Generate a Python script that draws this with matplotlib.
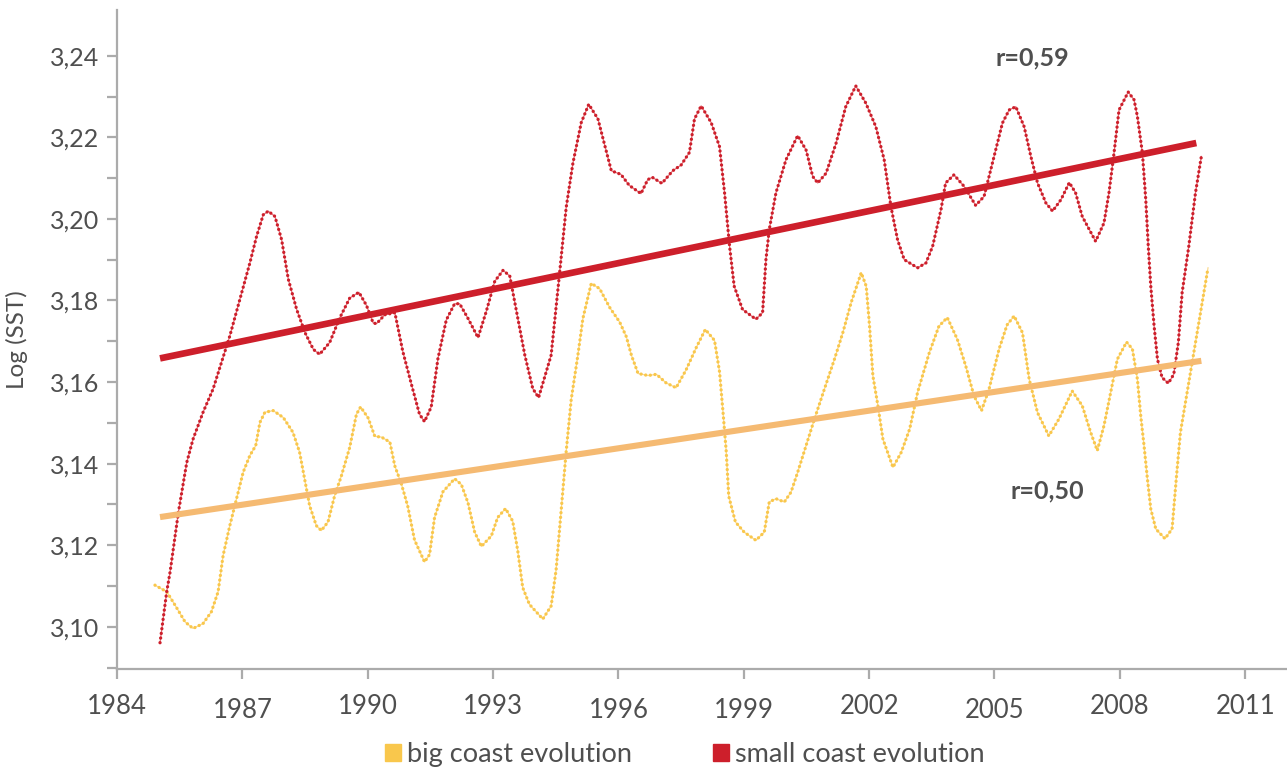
import matplotlib
matplotlib.use('Agg')
import matplotlib.pyplot as plt
from matplotlib.patches import Patch
from matplotlib.ticker import FixedLocator, FuncFormatter
from matplotlib.transforms import ScaledTranslation

# sea surface temperature, log scale, smoothed series
years_small = [1985.03, 1985.19, 1985.27, 1985.47, 1985.67, 1985.82, 1986.06, 1986.30, 1986.50, 1986.70,
               1986.94, 1987.18, 1987.34, 1987.50, 1987.62, 1987.78, 1987.94, 1988.10, 1988.30, 1988.50,
               1988.70, 1988.85, 1989.09, 1989.33, 1989.57, 1989.79, 1989.97, 1990.13, 1990.21, 1990.41,
               1990.65, 1990.84, 1991.05, 1991.24, 1991.36, 1991.52, 1991.68, 1991.88, 1992.08, 1992.20,
               1992.40, 1992.64, 1992.84, 1993.04, 1993.24, 1993.40, 1993.56, 1993.76, 1993.95, 1994.09,
               1994.39, 1994.59, 1994.75, 1994.91, 1995.11, 1995.29, 1995.51, 1995.67, 1995.83, 1996.06,
               1996.26, 1996.54, 1996.70, 1996.81, 1997.04, 1997.30, 1997.50, 1997.70, 1997.82, 1997.98,
               1998.22, 1998.42, 1998.54, 1998.66, 1998.77, 1998.97, 1999.29, 1999.45, 1999.53, 1999.61,
               1999.77, 2000.01, 2000.29, 2000.49, 2000.65, 2000.77, 2000.97, 2001.21, 2001.44, 2001.68,
               2001.92, 2002.16, 2002.36, 2002.52, 2002.68, 2002.84, 2003.16, 2003.36, 2003.52, 2003.72,
               2003.83, 2004.03, 2004.27, 2004.55, 2004.75, 2004.87, 2005.07, 2005.19, 2005.35, 2005.51,
               2005.71, 2005.87, 2006.03, 2006.23, 2006.39, 2006.59, 2006.79, 2006.94, 2007.10, 2007.42,
               2007.62, 2007.74, 2007.86, 2007.98, 2008.20, 2008.34, 2008.42, 2008.54, 2008.62, 2008.68,
               2008.74, 2008.82, 2008.90, 2009.01, 2009.16, 2009.29, 2009.40, 2009.49, 2009.65, 2009.81,
               2009.95]
small_coast = [3.0961, 3.1086, 3.1134, 3.1281, 3.1403, 3.1460, 3.1526, 3.1583, 3.1648, 3.1713,
               3.1803, 3.1892, 3.1957, 3.2010, 3.2019, 3.2006, 3.1949, 3.1852, 3.1778, 3.1721,
               3.1680, 3.1668, 3.1697, 3.1757, 3.1806, 3.1820, 3.1788, 3.1745, 3.1743, 3.1765,
               3.1770, 3.1675, 3.1593, 3.1521, 3.1503, 3.1539, 3.1657, 3.1752, 3.1792, 3.1792,
               3.1756, 3.1709, 3.1774, 3.1847, 3.1874, 3.1860, 3.1774, 3.1666, 3.1584, 3.1562,
               3.1666, 3.1865, 3.2028, 3.2136, 3.2236, 3.2281, 3.2245, 3.2181, 3.2118, 3.2109,
               3.2082, 3.2062, 3.2096, 3.2102, 3.2087, 3.2118, 3.2132, 3.2163, 3.2245, 3.2277,
               3.2236, 3.2177, 3.2064, 3.1933, 3.1835, 3.1778, 3.1754, 3.1770, 3.1900, 3.1974,
               3.2064, 3.2145, 3.2204, 3.2169, 3.2104, 3.2088, 3.2112, 3.2186, 3.2275, 3.2326,
               3.2284, 3.2226, 3.2145, 3.2031, 3.1949, 3.1900, 3.1880, 3.1892, 3.1933, 3.2023,
               3.2088, 3.2108, 3.2080, 3.2033, 3.2055, 3.2104, 3.2186, 3.2235, 3.2267, 3.2275,
               3.2226, 3.2153, 3.2088, 3.2039, 3.2019, 3.2047, 3.2089, 3.2064, 3.2006, 3.1945,
               3.1990, 3.2064, 3.2161, 3.2267, 3.2311, 3.2292, 3.2251, 3.2161, 3.2047, 3.1933,
               3.1835, 3.1737, 3.1656, 3.1611, 3.1597, 3.1619, 3.1697, 3.1819, 3.1933, 3.2064,
               3.2153]

years_big = [1984.91, 1985.19, 1985.39, 1985.63, 1985.82, 1986.06, 1986.26, 1986.42, 1986.54, 1986.70,
             1986.86, 1987.02, 1987.18, 1987.32, 1987.42, 1987.54, 1987.74, 1987.98, 1988.21, 1988.37,
             1988.49, 1988.61, 1988.77, 1988.89, 1989.05, 1989.21, 1989.37, 1989.57, 1989.73, 1989.83,
             1990.01, 1990.17, 1990.33, 1990.53, 1990.65, 1990.81, 1990.96, 1991.12, 1991.36, 1991.48,
             1991.60, 1991.80, 1992.08, 1992.24, 1992.40, 1992.56, 1992.72, 1992.96, 1993.11, 1993.30,
             1993.47, 1993.59, 1993.71, 1993.87, 1994.19, 1994.39, 1994.51, 1994.63, 1994.75, 1994.87,
             1995.03, 1995.15, 1995.35, 1995.55, 1995.79, 1996.03, 1996.19, 1996.31, 1996.47, 1996.71,
             1996.91, 1997.14, 1997.38, 1997.62, 1997.86, 1998.08, 1998.30, 1998.42, 1998.50, 1998.58,
             1998.64, 1998.80, 1999.01, 1999.29, 1999.49, 1999.61, 1999.77, 1999.97, 2000.13, 2000.29,
             2000.49, 2000.69, 2000.93, 2001.17, 2001.37, 2001.57, 2001.81, 2001.93, 2002.01, 2002.09,
             2002.21, 2002.33, 2002.57, 2002.77, 2002.97, 2003.16, 2003.44, 2003.67, 2003.87, 2004.11,
             2004.31, 2004.51, 2004.69, 2004.87, 2005.11, 2005.30, 2005.47, 2005.67, 2005.83, 2006.03,
             2006.30, 2006.54, 2006.86, 2007.10, 2007.30, 2007.46, 2007.62, 2007.78, 2007.94, 2008.16,
             2008.30, 2008.42, 2008.50, 2008.58, 2008.66, 2008.74, 2008.86, 2009.08, 2009.25, 2009.35,
             2009.45, 2009.61, 2009.77, 2009.93, 2010.11]
big_coast = [3.1102, 3.1086, 3.1053, 3.1012, 3.0996, 3.1008, 3.1037, 3.1086, 3.1175, 3.1248,
             3.1314, 3.1379, 3.1420, 3.1444, 3.1501, 3.1526, 3.1530, 3.1513, 3.1477, 3.1428,
             3.1363, 3.1297, 3.1248, 3.1236, 3.1257, 3.1322, 3.1370, 3.1440, 3.1521, 3.1539,
             3.1512, 3.1467, 3.1465, 3.1453, 3.1394, 3.1349, 3.1295, 3.1213, 3.1159, 3.1177,
             3.1268, 3.1331, 3.1363, 3.1349, 3.1304, 3.1232, 3.1197, 3.1223, 3.1268, 3.1290,
             3.1259, 3.1187, 3.1096, 3.1055, 3.1019, 3.1051, 3.1141, 3.1286, 3.1430, 3.1557,
             3.1666, 3.1756, 3.1842, 3.1829, 3.1783, 3.1747, 3.1711, 3.1666, 3.1621, 3.1616,
             3.1619, 3.1598, 3.1586, 3.1630, 3.1684, 3.1729, 3.1702, 3.1625, 3.1530, 3.1430,
             3.1320, 3.1257, 3.1232, 3.1212, 3.1232, 3.1306, 3.1314, 3.1306, 3.1330, 3.1379,
             3.1444, 3.1509, 3.1583, 3.1656, 3.1721, 3.1795, 3.1868, 3.1835, 3.1737, 3.1615,
             3.1542, 3.1460, 3.1391, 3.1428, 3.1485, 3.1575, 3.1672, 3.1737, 3.1758, 3.1705,
             3.1640, 3.1566, 3.1530, 3.1583, 3.1681, 3.1740, 3.1762, 3.1721, 3.1607, 3.1525,
             3.1468, 3.1509, 3.1578, 3.1542, 3.1477, 3.1432, 3.1493, 3.1575, 3.1656, 3.1698,
             3.1681, 3.1607, 3.1517, 3.1443, 3.1362, 3.1289, 3.1240, 3.1216, 3.1240, 3.1363,
             3.1477, 3.1575, 3.1672, 3.1770, 3.1880]

# linear trends (start / end)
trend_years_small = [1985.03, 2009.83]
trend_small = [3.1658, 3.2186]
trend_years_big = [1985.03, 2009.95]
trend_big = [3.1269, 3.1652]

r_small = 'r=0,59'
r_big = 'r=0,50'
year_ticks = list(range(1984, 2012, 3))
raised_years = [1984, 1990, 1993, 2002, 2008, 2011]
value_ticks = [3.10, 3.12, 3.14, 3.16, 3.18, 3.20, 3.22, 3.24]
minor_ticks = [3.09, 3.11, 3.13, 3.15, 3.17, 3.19, 3.21, 3.23]

RED = '#CD1F2B'
RED_LINE = '#E3747C'
YELLOW = '#F9C74C'
YELLOW_LINE = '#FBDA90'
ORANGE = '#F5BA72'
AXIS = '#ABABAB'
TEXT = '#4F4F4F'

plt.rcParams['font.family'] = ['Lato', 'DejaVu Sans']

fig = plt.figure(figsize=(12.87, 7.71), dpi=100)
ax = fig.add_axes([0.0909, 0.132, 0.9091, 0.855])


def dotted_series(x, y, dot_color, line_color):
    ax.plot(x, y, color=line_color, lw=0.9, zorder=2)
    ax.plot(x, y, color=dot_color, lw=2.4, linestyle=(0, (0.01, 1.4)),
            dash_capstyle='round', zorder=3)


dotted_series(years_big, big_coast, YELLOW, YELLOW_LINE)
dotted_series(years_small, small_coast, RED, RED_LINE)

ax.plot(trend_years_big, trend_big, color=ORANGE, lw=4.4, solid_capstyle='butt', zorder=4)
ax.plot(trend_years_small, trend_small, color=RED, lw=4.8, solid_capstyle='butt', zorder=4)

ax.text(2005.9, 3.2394, r_small, ha='center', va='center', fontsize=18,
        fontweight='bold', color=TEXT)
ax.text(2006.26, 3.1334, r_big, ha='center', va='center', fontsize=18,
        fontweight='bold', color=TEXT)

ax.set_xlim(1984, 2012)
ax.set_ylim(3.0896, 3.2512)

ax.xaxis.set_major_locator(FixedLocator(year_ticks))
ax.yaxis.set_major_locator(FixedLocator(value_ticks))
ax.yaxis.set_minor_locator(FixedLocator(minor_ticks))
ax.yaxis.set_major_formatter(FuncFormatter(lambda v, p: f'{v:.2f}'.replace('.', ',')))

for side in ('top', 'right'):
    ax.spines[side].set_visible(False)
for side in ('left', 'bottom'):
    ax.spines[side].set_color(AXIS)
    ax.spines[side].set_linewidth(1.6)

ax.tick_params(axis='both', which='both', direction='out', length=7.5, width=1.6,
               color=AXIS, labelcolor=TEXT)
ax.tick_params(axis='x', labelsize=18.5, pad=13.5)
ax.tick_params(axis='y', labelsize=18, pad=5)

# staggered year labels
fig.canvas.draw()
for year, lab in zip(year_ticks, ax.get_xticklabels()):
    if year in raised_years:
        lab.set_transform(lab.get_transform() + ScaledTranslation(0, 3 / 72, fig.dpi_scale_trans))

ax.set_ylabel('Log (SST)', fontsize=17.5, color=TEXT)
ax.yaxis.set_label_coords(-0.076, 0.5)

handles = [Patch(color=YELLOW, label='big coast evolution'),
           Patch(color=RED, label='small coast evolution')]
fig.legend(handles=handles, loc='center', bbox_to_anchor=(0.532, 0.021), ncol=2,
           frameon=False, fontsize=19.5, handlelength=0.6, handleheight=0.6,
           handletextpad=0.2, columnspacing=3.0, labelcolor=TEXT)

fig.savefig('out.png', dpi=100)
